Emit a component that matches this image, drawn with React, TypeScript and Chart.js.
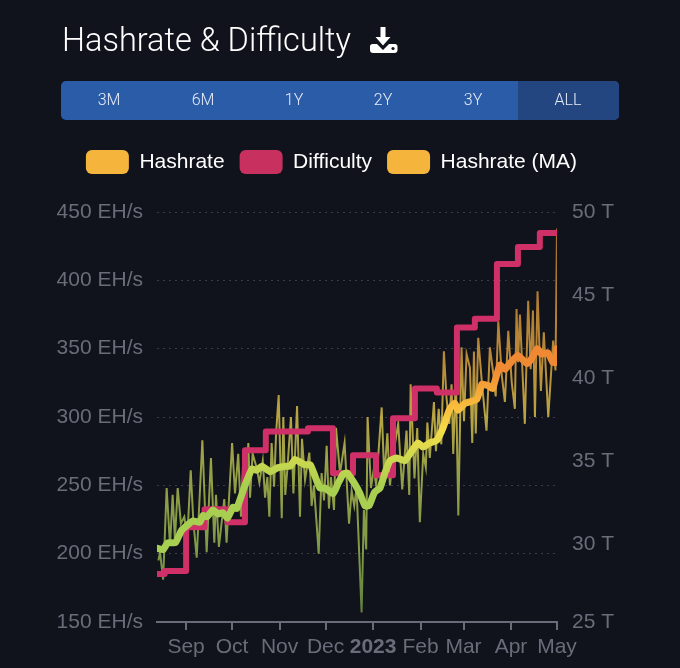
import React, { useEffect, useRef } from "react";
import { Chart, registerables } from "chart.js";

Chart.register(...registerables);

const ranges = ["3M", "6M", "1Y", "2Y", "3Y", "ALL"];
const rangeCentres = [109, 203, 294, 383, 473, 568];

const tickDays = [19, 49, 80, 110, 141, 172, 200, 231, 261];
const tickNames = ["Sep", "Oct", "Nov", "Dec", "2023", "Feb", "Mar", "Apr", "May"];
const rightTicks = [25.35, 30, 35, 40, 45, 50];

const hashDays = [
  0.9, 2, 4, 6.3, 8.5, 10.2, 11.7, 13.5, 15.6, 17.8,
  19.8, 22, 23.7, 25.9, 29.6, 32.4, 35.2, 37.4, 38.5, 40.4,
  43.9, 45.4, 49, 50.9, 53, 54.8, 56.3, 57.8, 59.6, 60.7,
  62.4, 65, 66.8, 69, 70.5, 72, 73.3, 74.8, 76.4, 77.7,
  79.4, 81.4, 82.4, 83.7, 85, 87.4, 89, 91.4, 93.3, 94.6,
  96.6, 99.4, 100.9, 102.4, 105.5, 107.4, 109, 110.7, 112.2, 113.5,
  115.5, 116.8, 119.4, 122.4, 125.3, 127, 128.7, 130.2, 133.5, 135,
  136.5, 137.4, 139.6, 141.5, 143, 146.6, 148.3, 150.3, 152, 154.2,
  157.4, 160, 162.8, 164.6, 165.5, 168, 169.8, 171.5, 173.7, 175.4,
  176.4, 178, 180.7, 182, 183.8, 185.5, 187.2, 188.9, 190.7, 192.2,
  193.3, 195, 196.6, 198.7, 200.3, 202, 204.2, 205.7, 206.8, 208,
  209.6, 212, 215, 217.2, 219.4, 221, 222.7, 225, 227, 229.2,
  231.5, 233.5, 234.6, 235.6, 236.8, 240, 242.2, 243.8, 245.3, 246.6,
  248.3, 250.5, 252.4, 255.3, 258.5, 260, 261,
];
const hashValues = [
  195, 201, 181, 248, 206, 243, 210, 248, 222, 227,
  212, 261, 224, 197, 283, 201, 270, 208, 243, 205,
  240, 208, 281, 244, 273, 227, 270, 244, 281, 241,
  273, 263, 252, 268, 241, 256, 227, 281, 249, 288,
  316, 226, 300, 243, 261, 300, 244, 308, 227, 284,
  254, 274, 235, 250, 200, 259, 239, 279, 233, 256,
  232, 292, 259, 281, 222, 246, 235, 248, 157, 232,
  203, 300, 248, 262, 250, 307, 256, 288, 250, 273,
  295, 247, 290, 243, 324, 255, 292, 223, 273, 263,
  296, 270, 311, 275, 306, 280, 348, 314, 295, 324,
  273, 330, 228, 351, 297, 346, 336, 281, 348, 288,
  358, 325, 290, 351, 332, 315, 370, 330, 311, 363,
  325, 306, 379, 340, 375, 295, 385, 335, 378, 300,
  392, 319, 362, 300, 356, 334, 438,
];

const maDays = [
  0, 4, 7, 12, 16, 20, 23.5, 28, 30, 32.6,
  36.5, 40, 43, 46, 49.6, 52, 57.4, 62, 65, 68.5,
  73.7, 79, 84.8, 87, 90, 93.3, 96.5, 100, 103, 106.3,
  109.6, 115, 118, 121.3, 124, 129, 132.4, 135.7, 138.3, 142,
  145.5, 148.7, 152, 156.5, 161.8, 165, 170.3, 173.5, 178, 182.6,
  186.6, 191, 194.4, 196.3, 201, 208.7, 212, 216, 219, 223.7,
  227, 231.6, 235.5, 241.4, 244.6, 248, 251, 255, 258.3, 260.5, 261,
];
const maValues = [
  204, 203, 208, 208, 217, 221, 224, 223, 228, 227,
  232, 229, 230, 226, 234, 233, 250, 262, 261, 264,
  260, 263, 264, 264, 269, 267, 265, 265, 257, 248,
  248, 244, 251, 258, 259, 251, 244, 235, 235, 245,
  248, 259, 268, 270, 268, 273, 281, 278, 281, 283,
  292, 306, 310, 305, 310, 313, 324, 323, 321, 338,
  335, 341, 345, 339, 343, 350, 346, 347, 340, 340, 350,
];

const difficultyDays = [0, 5, 19, 31, 46, 57.4, 71, 98.5, 114.8, 127.9, 142.9, 154, 168.3, 182.6, 195.7, 207.4, 221.8, 235.5, 249.8, 261];
const difficultyValues = [28.24, 28.42, 31.05, 32.13, 31.35, 35.67, 36.8, 37.0, 34.3, 35.37, 34.17, 37.6, 39.39, 39.15, 43.05, 43.58, 46.88, 47.9, 48.74, 48.74];

const maStops: [number, string][] = [[150, "#a4ce55"], [250, "#a9cf50"], [270, "#cfd94f"], [290, "#f5dc48"], [310, "#f8b83c"], [335, "#f08a33"], [450, "#ee7b30"]];
const hashStops: [number, string][] = [[150, "#5c7a3c"], [200, "#7f9a47"], [260, "#959f46"], [300, "#b8a544"], [340, "#b98b38"], [450, "#a86a2c"]];

const zip = (xs: number[], ys: number[]) => xs.map((x, i) => ({ x, y: ys[i] }));

const valueGradient = (stops: [number, string][]) => (ctx: any) => {
  const chart = ctx.chart;
  if (!chart.chartArea || !chart.scales.y) return stops[0][1];
  const y = chart.scales.y;
  const g = chart.ctx.createLinearGradient(0, y.getPixelForValue(150), 0, y.getPixelForValue(450));
  stops.forEach(([v, c]) => g.addColorStop((v - 150) / 300, c));
  return g;
};

const TICK = "#6a6d79";
const FONT = "'Liberation Sans', Arial, sans-serif";

const legendGap = {
  id: "legendGap",
  beforeInit(chart: any) {
    const fit = chart.legend.fit;
    chart.legend.fit = function () {
      fit.call(this);
      this.height += 28;
    };
  },
};

export default function App() {
  const ref = useRef<HTMLCanvasElement>(null);
  useEffect(() => {
    const chart = new Chart(ref.current!, {
      type: "line",
      plugins: [legendGap],
      data: {
        datasets: [
          {
            label: "Hashrate",
            data: zip(hashDays, hashValues),
            yAxisID: "y",
            order: 2,
            borderColor: valueGradient(hashStops),
            backgroundColor: "#f5b53d",
            borderWidth: 2,
            pointRadius: 0,
          },
          {
            label: "Difficulty",
            data: zip(difficultyDays, difficultyValues),
            yAxisID: "y1",
            order: 1,
            stepped: true,
            borderColor: "#cf3067",
            backgroundColor: "#c7305f",
            borderWidth: 6,
            pointRadius: 0,
            borderJoinStyle: "round",
          },
          {
            label: "Hashrate (MA)",
            data: zip(maDays, maValues),
            yAxisID: "y",
            order: 0,
            borderColor: valueGradient(maStops),
            backgroundColor: "#f5b53d",
            borderWidth: 7,
            pointRadius: 0,
            tension: 0.15,
            borderJoinStyle: "round",
            borderCapStyle: "round",
          },
        ],
      } as any,
      options: {
        responsive: false,
        animation: false,
        layout: { padding: { top: 135, right: 17, left: 0, bottom: 0 } },
        plugins: {
          tooltip: { enabled: false },
          legend: {
            position: "top",
            align: "center",
            labels: {
              boxWidth: 43,
              boxHeight: 24,
              padding: 15,
              useBorderRadius: true,
              borderRadius: 6,
              color: "#ffffff",
              font: { size: 21, family: FONT },
              sort: (a: any, b: any) => a.datasetIndex - b.datasetIndex,
              generateLabels: (c: any) =>
                Chart.defaults.plugins.legend.labels.generateLabels(c).map((l: any) => ({ ...l, lineWidth: 0 })),
            },
          },
        },
        scales: {
          x: {
            type: "linear",
            min: 0,
            max: 261,
            afterBuildTicks: (s: any) => {
              s.ticks = tickDays.map((value) => ({ value }));
            },
            afterFit: (s: any) => {
              s.height = 46;
            },
            border: { color: TICK, width: 2 },
            grid: { drawOnChartArea: false, color: TICK, lineWidth: 2, tickLength: 8 },
            ticks: {
              autoSkip: false,
              maxRotation: 0,
              color: TICK,
              padding: 5,
              font: (ctx: any) => ({ size: 21, family: FONT, weight: ctx.tick && ctx.tick.value === 141 ? "bold" : "normal" }),
              callback: (v: any) => tickNames[tickDays.indexOf(v)] ?? "",
            },
          },
          y: {
            position: "left",
            min: 150,
            max: 450,
            afterFit: (s: any) => {
              s.width = 157;
            },
            border: { display: false, dash: [2, 4] },
            grid: { color: "#3a3d49", lineWidth: 1, drawTicks: false },
            ticks: {
              stepSize: 50,
              color: TICK,
              padding: 14,
              font: { size: 21, family: FONT },
              callback: (v: any) => `${v} EH/s`,
            },
          },
          y1: {
            position: "right",
            min: 25.35,
            max: 50,
            afterBuildTicks: (s: any) => {
              s.ticks = rightTicks.map((value) => ({ value }));
            },
            afterFit: (s: any) => {
              s.width = 106;
            },
            border: { display: false },
            grid: { drawOnChartArea: false, drawTicks: false },
            ticks: {
              color: TICK,
              padding: 15,
              font: { size: 21, family: FONT },
              callback: (v: any) => `${Math.round(v)} T`,
            },
          },
        },
      } as any,
    });
    return () => chart.destroy();
  }, []);

  return (
    <div style={{ position: "absolute", left: 0, top: 0, width: 680, height: 668, background: "#10121c", overflow: "hidden" }}>
      <canvas ref={ref} width={680} height={668} style={{ position: "absolute", left: 0, top: 0, display: "block" }} />
      <div style={{ position: "absolute", left: 62, top: 20, fontFamily: "Roboto, sans-serif", fontWeight: 300, fontSize: 32.5, lineHeight: "40px", color: "#fff", whiteSpace: "nowrap" }}>
        Hashrate &amp; Difficulty
      </div>
      <svg style={{ position: "absolute", left: 368, top: 26 }} width="32" height="30" viewBox="0 0 32 30">
        <path d="M12.5 1h5v10h5l-7.5 8.5L7.500 11h5z" fill="#fff" />
        <path d="M2 20.500c0-1.500 1-2.500 2.500-2.500h4.500l6 6 6-6h6c1.500 0 2.500 1 2.500 2.500v3.500c0 2-1.200 3-3 3H5c-1.800 0-3-1-3-3z" fill="#fff" />
        <circle cx="25" cy="22.500" r="1.600" fill="#10121c" />
      </svg>
      <div style={{ position: "absolute", left: 61, top: 81, width: 558, height: 39, borderRadius: 5, background: "#2b5ca8", overflow: "hidden" }}>
        <div style={{ position: "absolute", left: 457, top: 0, width: 101, height: 39, background: "#234680" }} />
      </div>
      {ranges.map((r, i) => (
        <div
          key={r}
          style={{
            position: "absolute",
            left: rangeCentres[i] - 30,
            width: 60,
            top: 81,
            height: 39,
            lineHeight: "38px",
            textAlign: "center",
            fontFamily: "Roboto, sans-serif",
            fontWeight: 300,
            fontSize: 16,
            color: "#e6ecf8",
          }}
        >
          {r}
        </div>
      ))}
    </div>
  );
}
